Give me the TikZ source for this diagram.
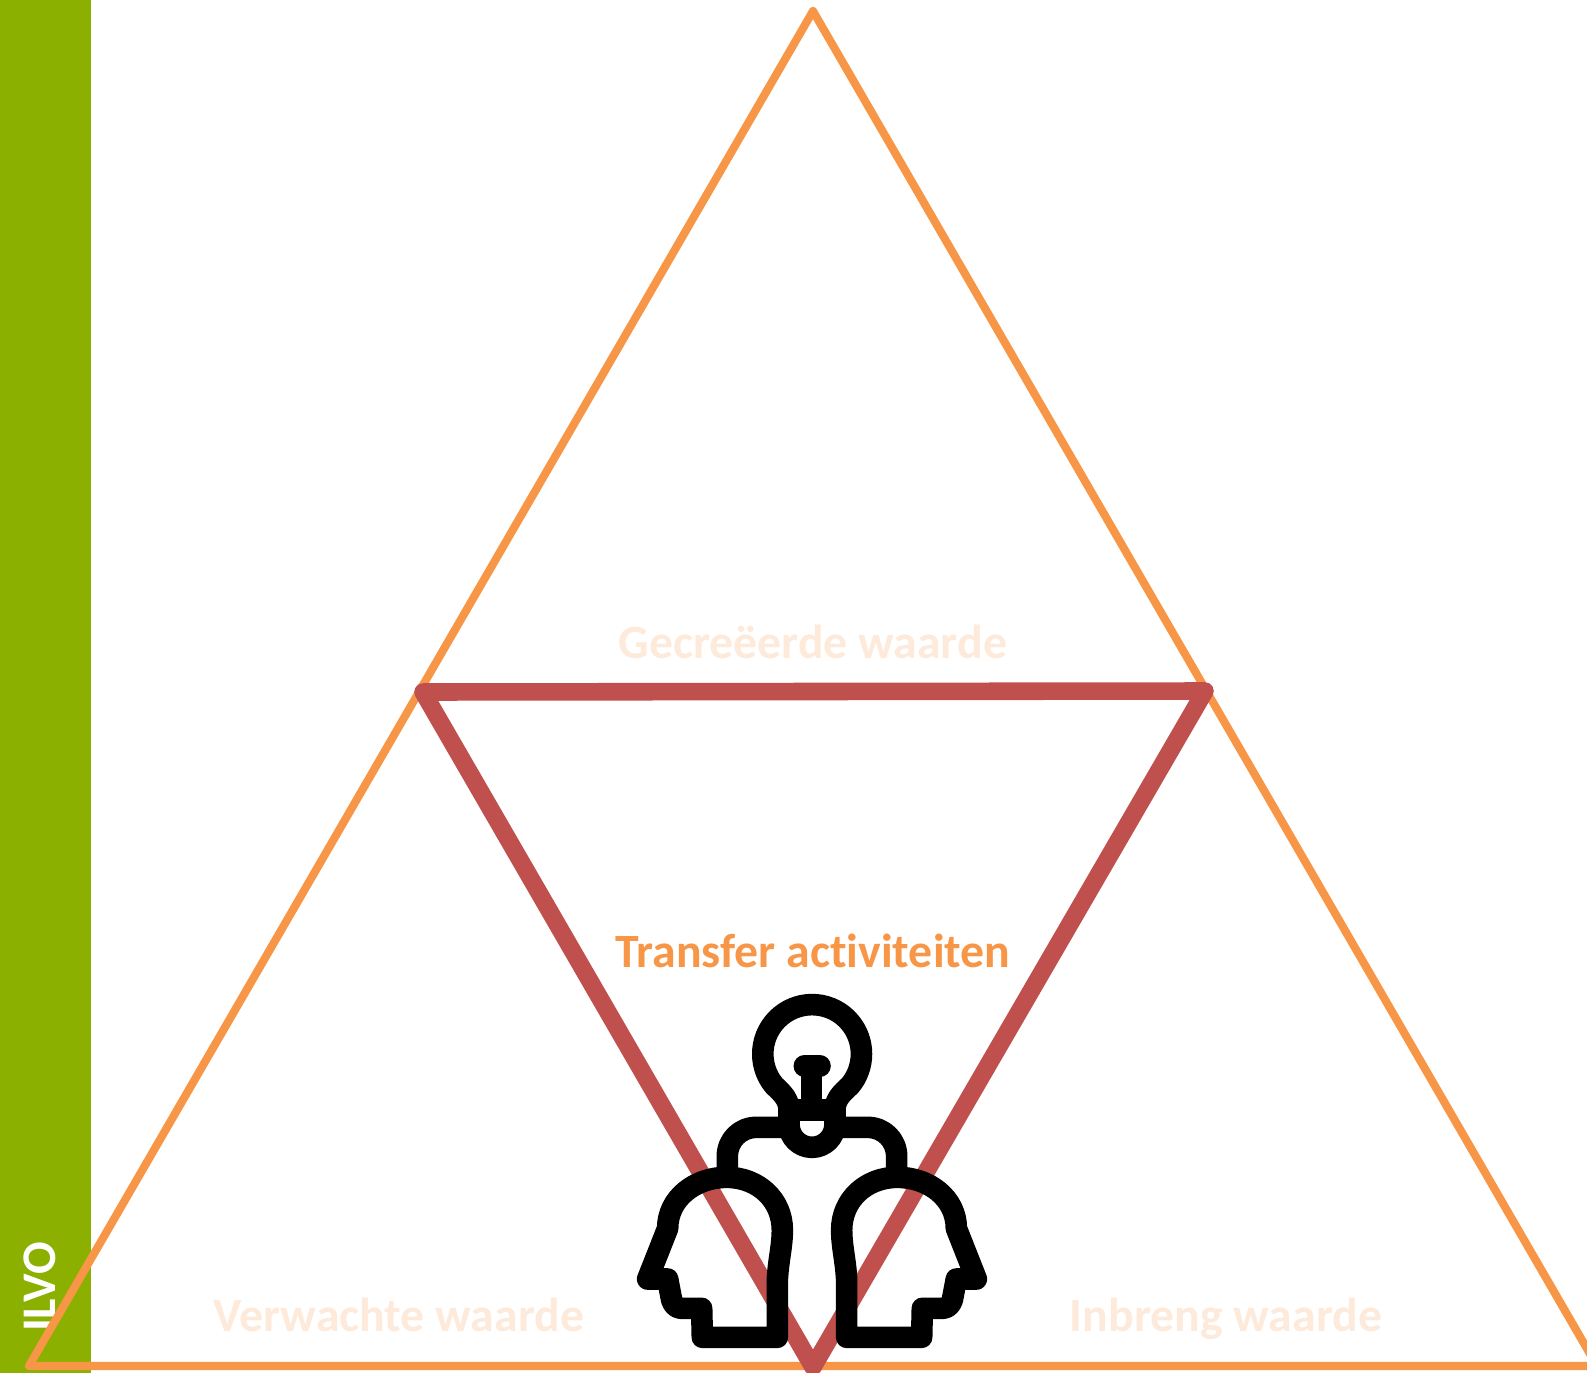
\documentclass[tikz,border=0pt]{standalone}
\usepackage{fontspec}
\setmainfont[Ligatures=NoCommon]{Carlito}
\usepackage{tikz}
\definecolor{barGreen}{HTML}{8CB000}
\definecolor{triOrange}{HTML}{F79646}
\definecolor{triRed}{HTML}{C0504D}
\definecolor{paleOrange}{HTML}{FDEADA}
\tikzstyle{outer}=[draw=triOrange,line width=4.6pt,line join=round]
\tikzstyle{inner}=[draw=triRed,line width=10pt,line join=round]
\tikzstyle{paleLabel}=[text=paleOrange,anchor=base,font=\fontsize{27.2}{32}\selectfont\bfseries]
\tikzstyle{iconLine}=[draw=black,line width=12.3pt,line join=round,line cap=round]
\newcommand{\headPath}{(472,1072) -- (472,900) .. controls (475,840) and (487,800) .. (487,750)
  .. controls (487,660) and (415,592) .. (320,592) .. controls (225,592) and (143,655) .. (143,745)
  -- (83,897) -- (143,897) -- (155,960) .. controls (160,975) and (170,985) .. (185,985)
  -- (245,985) -- (247,1072) -- cycle}
\newcommand{\sidePath}{(322,565) -- (322,530) .. controls (322,480) and (360,442) .. (410,442) -- (490,442)}
\begin{document}
\begin{tikzpicture}[x=0.02cm,y=-0.02cm]
            \clip (0,0) rectangle (1587,1373);

            % BAR PART

            \fill[barGreen] (0,0) rectangle (91,1373);
            \node[rotate=90,text=white,font=\fontsize{27.5}{32}\selectfont\bfseries] (ilvo) at (40,1287) {ILVO};

            % TRIANGLE PART

            \coordinate (top) at (813,11);
            \coordinate (left) at (29,1366);
            \coordinate (right) at (1597,1366);
            \coordinate (upl) at (423,692);
            \coordinate (upr) at (1205,691);
            \coordinate (low) at (813,1367);

            \draw[outer] (top) -- (left) -- (right) -- cycle;
            \draw[inner] (upl) -- (upr) -- (low) -- cycle;

            % LABEL PART

            \node[paleLabel] (created) at (813,658) {Gecreëerde waarde};
            \node[paleLabel] (expected) at (399,1331) {Verwachte waarde};
            \node[paleLabel] (input) at (1226,1331) {Inbreng waarde};
            \node[paleLabel,text=triOrange] (transfer) at (813,967) {Transfer activiteiten};

            % ICON PART

            \begin{scope}[shift={(620,980)},scale=1/3]
                \draw[iconLine] (507,433) -- (507,390) .. controls (507,360) and (490,342) .. (463,317)
                    arc[start angle=140,end angle=400,radius=148]
                    .. controls (662,342) and (645,360) .. (645,390) -- (645,433);
                \draw[iconLine] (507,433) arc[start angle=180,end angle=0,radius=69];
                \draw[iconLine] (515,390) -- (637,390);
                \draw[iconLine] (575,258) -- (575,390);
                \draw[iconLine] (553,258) -- (600,258);
                \draw[iconLine] \headPath;
                \draw[iconLine] \sidePath;
            \end{scope}
            \begin{scope}[shift={(1004,980)},xscale=-1/3,yscale=1/3]
                \draw[iconLine] \headPath;
                \draw[iconLine] \sidePath;
            \end{scope}

        \end{tikzpicture}
\end{document}
